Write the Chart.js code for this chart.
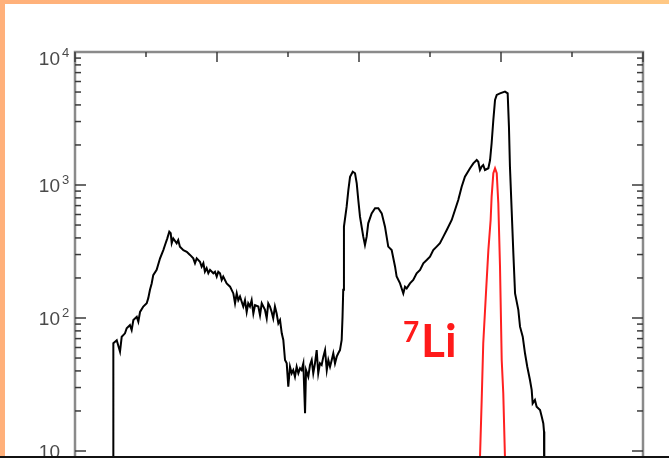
<!DOCTYPE html>
<html>
<head>
<meta charset="utf-8">
<script src="https://cdn.jsdelivr.net/npm/chart.js@4.4.1/dist/chart.umd.min.js"></script>
<style>
  html, body { margin: 0; padding: 0; background: #fff; overflow: hidden; }
  #wrap { position: relative; width: 669px; height: 458px; overflow: hidden; background: #fff; }
  #chart { position: absolute; left: 0; top: 0; }
  .bar-top { position: absolute; left: 0; top: 0; width: 669px; height: 4px; background: linear-gradient(to right, #ffb07a, #ffc884); }
  .bar-left { position: absolute; left: 0; top: 0; width: 5px; height: 458px; background: #ffb07a; }
  .bar-bottom { position: absolute; left: 0; top: 456px; width: 669px; height: 2px; background: #111; }
</style>
</head>
<body>
<div id="wrap">
  <canvas id="chart" width="669" height="600"></canvas>
  <div class="bar-top"></div>
  <div class="bar-left"></div>
  <div class="bar-bottom"></div>
</div>
<script>
// spectre total (noir)
const totalCanal = [
  27.0, 27.0, 29.4, 31.7, 32.9, 35.2, 36.4, 38.7, 39.9, 41.1,
  43.5, 44.6, 45.8, 48.1, 50.5, 51.6, 52.8, 54.0, 55.1, 57.5,
  59.9, 62.2, 63.4, 65.0, 66.4, 67.4, 68.1, 69.2, 71.6, 72.7,
  73.9, 76.3, 78.7, 81.0, 83.3, 84.5, 85.7,
  88.0, 89.2, 90.4, 91.5, 92.7, 93.9, 95.1, 97.4, 98.6, 99.8,
  100.9, 102.1, 103.3, 104.4, 106.8, 109.2, 111.5, 112.7, 113.9, 115.0,
  116.2, 118.5, 119.7, 120.9, 122.0, 123.2, 124.4, 125.6, 126.8, 129.1,
  130.3, 131.5, 133.8, 135.0, 136.1, 137.3, 138.5, 139.6, 140.8, 142.0,
  143.2, 144.4, 145.6, 146.7,
  147.9, 149.1, 150.2, 151.4, 152.6, 153.7, 154.9, 156.1, 157.3, 158.5,
  159.6, 160.8, 162.0, 162.7, 164.3, 165.5, 166.7, 167.8, 169.0, 170.2,
  171.3, 172.5, 173.7, 174.9, 176.1, 177.3, 178.4, 179.6, 180.8, 181.9,
  183.1, 184.3, 185.4, 186.6, 187.8, 188.4, 188.9,
  189.4, 191.3, 192.5, 193.7, 195.6, 197.2, 198.4, 199.5, 200.7,
  203.0, 204.2, 205.4, 206.5, 208.9, 211.3, 213.6, 216.0, 218.3, 220.6,
  223.0, 225.4, 226.5, 228.9, 231.2, 232.4, 233.6, 235.9, 238.2, 240.6,
  243.0, 245.3, 247.7, 250.0, 252.3, 254.7, 257.0, 259.4, 261.8, 265.3,
  267.6, 269.9, 272.3, 274.6, 278.2, 280.5, 282.9, 284.0, 285.2, 286.4,
  287.5, 288.7, 291.1, 292.3, 293.4, 294.6, 295.8, 297.0, 299.3, 302.8,
  304.7, 305.6, 306.3, 307.5, 308.7, 309.9, 312.2, 313.4, 315.3, 316.9,
  318.5, 320.4, 321.6, 322.3, 323.9, 325.1, 327.5, 328.7, 329.8, 330.3,
  330.5
];
const totalCoups = [
  1, 64.6, 68, 55.8, 72.3, 76.7, 83.7, 88.5, 81.3, 96.6,
  102, 93.8, 111, 122, 129, 141, 163, 182, 210, 230,
  281, 324, 354, 397, 446, 434, 365, 397, 365, 385,
  344, 324, 315, 298, 281, 258, 281,
  265, 243, 258, 223, 237, 217, 230, 217, 223, 205,
  223, 217, 193, 205, 182, 172, 153, 129, 153, 136,
  145, 122, 136, 111, 129, 122, 136, 108, 125, 122,
  105, 129, 115, 99.5, 129, 122, 111, 99.5, 122, 108,
  91.2, 96.6, 76.7, 68.4,
  48.3, 45.6, 30.4, 43.0, 38.4, 40.6, 36.2, 43.0, 38.4, 41.9,
  40.6, 45.6, 19.2, 40.6, 36.2, 44.3, 48.3, 38.4, 45.6, 57.4,
  38.4, 45.6, 44.3, 51.2, 57.4, 40.6, 48.3, 43.0, 48.3, 54.3,
  45.6, 51.2, 54.3, 57.4, 68.4, 102, 163,
  486, 687, 916, 1153, 1259, 1225, 1030, 771, 578,
  409, 354, 409, 515, 612, 668, 668, 612, 486, 344,
  324, 243, 205, 182, 153, 172, 167, 182, 193, 217,
  230, 258, 273, 289, 324, 344, 365, 409, 459, 546,
  649, 771, 971, 1153, 1336, 1455, 1542, 1496, 1297, 1374,
  1413, 1297, 1336, 1542, 2061, 3083, 4355, 4753, 4887, 5035,
  4887, 2742, 1374, 649, 306, 153, 115, 86.1, 72.3, 54.3,
  43.0, 34.2, 28.8, 22.8, 24.2, 21.5, 20.3, 18.1, 16.1, 14,
  1
];

// pic du 7Li (rouge)
const liCanal = [284.5, 285.2, 286.4, 287.5, 289.4, 291.1, 292.7, 293.4, 294.6, 295.8, 297.0, 298.1, 299.3, 300.5, 301.6, 302.8, 303.5];
const liCoups = [1, 8.85, 24.2, 64.6, 153, 324, 546, 817, 1225, 1336, 1225, 728, 243, 48.3, 27.2, 8.85, 1];

// axes
const xMin = 0, xMax = 400, xPasMajeur = 100, xPasMineur = 50;
const yMin = 1, yMax = 10000;
const yEtiquettes = [10, 100, 1000, 10000];
const yExposants = ["", "2", "3", "4"];

const toPoints = (xs, ys) => xs.map((v, i) => ({ x: v, y: ys[i] }));

// cadre style IDL : traits vers l'interieur sur les 4 cotes + etiquettes 10^n
const cadre = {
  id: "cadre",
  afterDraw(chart) {
    const { ctx, chartArea: a, scales: { x, y } } = chart;
    ctx.save();
    ctx.strokeStyle = "#8a8a8a";
    ctx.lineWidth = 2.5;
    ctx.strokeRect(a.left, a.top, a.right - a.left, a.bottom - a.top);

    ctx.strokeStyle = "#3a3a3a";
    ctx.lineWidth = 1.5;
    const trait = (x1, y1, x2, y2) => { ctx.beginPath(); ctx.moveTo(x1, y1); ctx.lineTo(x2, y2); ctx.stroke(); };

    for (let v = xMin; v <= xMax; v += xPasMineur) {
      const px = x.getPixelForValue(v);
      const l = v % xPasMajeur === 0 ? 10 : 5;
      trait(px, a.top, px, a.top + l);
    }

    for (let e = 0; e < 4; e++) {
      for (let m = 1; m < 10; m++) {
        const py = y.getPixelForValue(m * Math.pow(10, e));
        const l = m === 1 ? 11 : 6;
        trait(a.left, py, a.left + l, py);
        trait(a.right, py, a.right - l, py);
      }
    }

    ctx.fillStyle = "#4a4a4a";
    yEtiquettes.forEach((v, i) => {
      const cy = Math.max(y.getPixelForValue(v), a.top + 6);
      ctx.font = '19px "Liberation Sans"';
      ctx.textAlign = "right";
      ctx.fillText("10", 60, cy + 7);
      if (yExposants[i]) {
        ctx.font = '13px "Liberation Sans"';
        ctx.textAlign = "left";
        ctx.fillText(yExposants[i], 62, cy - 1);
      }
    });

    // annotation 7Li
    ctx.fillStyle = "#ff1a1a";
    ctx.textAlign = "left";
    ctx.font = 'bold 28px Lato';
    ctx.fillText("7", 403, 342);
    ctx.font = 'bold 46px Lato';
    ctx.fillText("Li", 421, 357);
    ctx.restore();
  }
};

new Chart(document.getElementById("chart").getContext("2d"), {
  type: "line",
  data: {
    datasets: [
      { data: toPoints(liCanal, liCoups), borderColor: "#ff2020", borderWidth: 2, pointRadius: 0, tension: 0 },
      { data: toPoints(totalCanal, totalCoups), borderColor: "#000", borderWidth: 2, pointRadius: 0, tension: 0 }
    ]
  },
  options: {
    responsive: false,
    animation: false,
    layout: { padding: { left: 75, right: 26, top: 52, bottom: 16 } },
    scales: {
      x: { type: "linear", min: xMin, max: xMax, display: false },
      y: { type: "logarithmic", min: yMin, max: yMax, display: false }
    },
    plugins: { legend: { display: false }, tooltip: { enabled: false } }
  },
  plugins: [cadre]
});
</script>
</body>
</html>
